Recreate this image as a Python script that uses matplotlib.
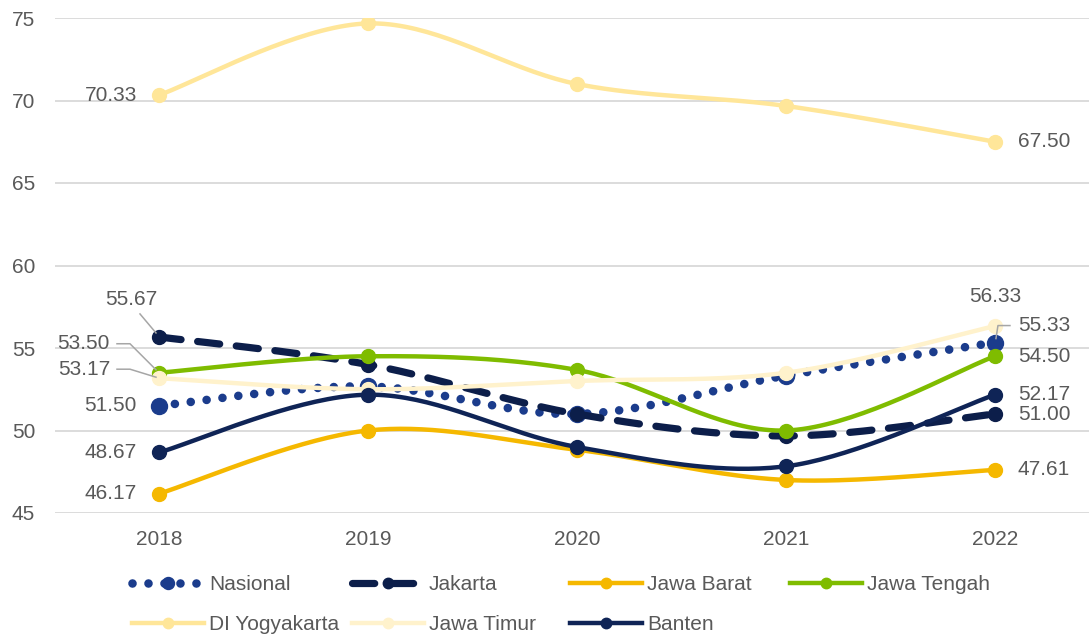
import numpy as np
import matplotlib
matplotlib.use("Agg")
import matplotlib.pyplot as plt
from matplotlib.lines import Line2D

plt.rcParams['font.family'] = ['Liberation Sans', 'DejaVu Sans']
plt.rcParams['lines.scale_dashes'] = False

years = ["2018", "2019", "2020", "2021", "2022"]
nasional = [51.50, 52.67, 51.00, 53.33, 55.33]
jakarta = [55.67, 54.00, 51.00, 49.67, 51.00]
jawa_barat = [46.17, 50.00, 48.83, 47.00, 47.61]
jawa_tengah = [53.50, 54.50, 53.67, 50.00, 54.50]
di_yogyakarta = [70.33, 74.67, 71.00, 69.67, 67.50]
jawa_timur = [53.17, 52.50, 53.00, 53.50, 56.33]
banten = [48.67, 52.17, 49.00, 47.83, 52.17]
y_ticks = [45, 50, 55, 60, 65, 70, 75]

TXT = '#595959'
FS = 15

W, H = 1089, 637
fig = plt.figure(figsize=(W / 100, H / 100), dpi=100)
ax = fig.add_axes([54.5 / W, 1 - 513 / H, (1089 - 54.5) / W, (513 - 18) / H])
ax.set_xlim(-0.5, 4.45)
ax.set_ylim(45, 75)
ax.set_yticks(y_ticks)
ax.set_xticks(range(len(years)))
ax.set_xticklabels(years)
ax.tick_params(length=0, labelsize=FS, labelcolor=TXT)
ax.tick_params(axis='y', pad=14)
ax.tick_params(axis='x', pad=12)
for s in ax.spines.values():
    s.set_visible(False)
ax.grid(axis='y', color='#D9D9D9', lw=1.3)
ax.set_axisbelow(True)


def smooth_curve(ys, k=40):
    """Sample a smoothed curve through the points (cubic Bezier, Catmull-Rom controls)."""
    pts = np.column_stack([np.arange(len(ys), dtype=float), np.asarray(ys, float)])
    n = len(pts)
    out = [pts[0]]
    t = np.linspace(0, 1, k)[1:, None]
    for i in range(n - 1):
        p0 = pts[i - 1] if i > 0 else pts[i]
        p1, p2 = pts[i], pts[i + 1]
        p3 = pts[i + 2] if i + 2 < n else pts[i + 1]
        c1 = p1 + (p2 - p0) / 6.0
        c2 = p2 - (p3 - p1) / 6.0
        b = ((1 - t) ** 3) * p1 + 3 * ((1 - t) ** 2) * t * c1 + 3 * (1 - t) * t ** 2 * c2 + t ** 3 * p2
        out.extend(b)
    return np.array(out)


series = [
    ("Nasional", nasional, '#1B3C8C', dict(lw=6.2, ls=(0, (0.01, 11.5)), dash_capstyle='round'), 11.5),
    ("Jakarta", jakarta, '#0C1E4A', dict(lw=5.2, ls=(0, (16, 12)), dash_capstyle='round'), 10),
    ("Jawa Barat", jawa_barat, '#F5B800', dict(lw=3.2, ls='-'), 10),
    ("Jawa Tengah", jawa_tengah, '#7FBC00', dict(lw=3.2, ls='-'), 10),
    ("DI Yogyakarta", di_yogyakarta, '#FFE699', dict(lw=3.2, ls='-'), 10),
    ("Jawa Timur", jawa_timur, '#FFF2CC', dict(lw=3.2, ls='-'), 10),
    ("Banten", banten, '#0F2456', dict(lw=3.2, ls='-'), 10),
]

handles = []
for z, (name, vals, col, style, ms) in enumerate(series):
    xs = np.arange(len(vals))
    pts = smooth_curve(vals)
    ax.plot(pts[:, 0], pts[:, 1], color=col, solid_capstyle='round', zorder=3 + z, **style)
    ax.plot(xs, vals, ls='none', marker='o', ms=ms, color=col, mec=col, zorder=3 + z)
    handles.append(Line2D([], [], color=col, marker='o', ms=ms * 0.75, **style))


def label(x, y, text, dx, dy, ha='left', va='center'):
    ax.annotate(text, (x, y), xytext=(dx * 0.72, dy * 0.72), textcoords='offset points',
                ha=ha, va=va, fontsize=FS, color=TXT, zorder=20)


def leader(x, y, pts_px):
    # polyline given as pixel offsets from the data point (y up)
    tr = ax.transData
    bx, by = tr.transform((x, y))
    arr = np.array([(bx + px, by + py) for px, py in pts_px])
    data = tr.inverted().transform(arr)
    ax.plot(data[:, 0], data[:, 1], color='#A6A6A6', lw=1.1, zorder=19)


# left-hand labels (2018)
label(0, di_yogyakarta[0], f"{di_yogyakarta[0]:.2f}", -22, 0, ha='right')
label(0, nasional[0], f"{nasional[0]:.2f}", -22, 0, ha='right')
label(0, banten[0], f"{banten[0]:.2f}", -22, 0, ha='right')
label(0, jawa_barat[0], f"{jawa_barat[0]:.2f}", -22, 0, ha='right')
label(0, jakarta[0], f"{jakarta[0]:.2f}", -28, 37, ha='center')
leader(0, jakarta[0], [(-19, 23), (-3, 4)])
label(0, jawa_tengah[0], f"{jawa_tengah[0]:.2f}", -49, 29, ha='right')
leader(0, jawa_tengah[0], [(-42, 29), (-29, 29), (-3, 3)])
label(0, jawa_timur[0], f"{jawa_timur[0]:.2f}", -49, 9, ha='right')
leader(0, jawa_timur[0], [(-42, 9), (-29, 9), (-3, 1)])

# right-hand labels (2022)
label(4, di_yogyakarta[4], f"{di_yogyakarta[4]:.2f}", 23, 0)
label(4, jawa_tengah[4], f"{jawa_tengah[4]:.2f}", 23, 0)
label(4, banten[4], f"{banten[4]:.2f}", 23, 0)
label(4, jakarta[4], f"{jakarta[4]:.2f}", 23, 0)
label(4, jawa_barat[4], f"{jawa_barat[4]:.2f}", 23, 0)
label(4, jawa_timur[4], f"{jawa_timur[4]:.2f}", 0, 30, ha='center')
label(4, nasional[4], f"{nasional[4]:.2f}", 23, 17)
leader(4, nasional[4], [(15, 17), (3, 17), (1, 4)])

# legend entries, one per slot
slots = [(132, 585), (352, 585), (570, 585), (790, 585),
         (132, 625), (352, 625), (570, 625)]
for h, (name, *_), (px, py) in zip(handles, series, slots):
    fig.legend(handles=[h], labels=[name], loc='center left',
               bbox_to_anchor=(px / W, 1 - py / H), frameon=False,
               borderpad=0, borderaxespad=0, handlelength=3.45,
               handletextpad=0.25, fontsize=FS, labelcolor=TXT)

fig.savefig("out.png", dpi=100)
